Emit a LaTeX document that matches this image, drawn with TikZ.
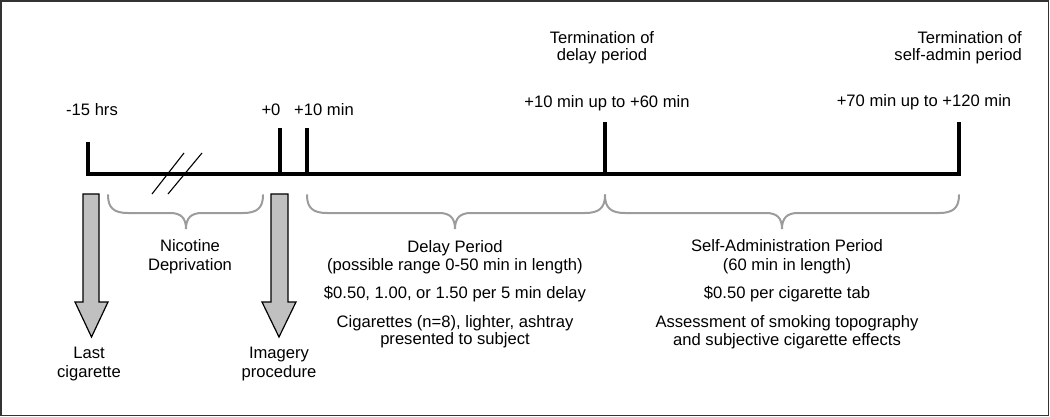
\documentclass[tikz,border=0pt]{standalone}
\usepackage{fontspec}
\setmainfont{Liberation Sans}
\definecolor{bracegray}{HTML}{9C9C9C}
\definecolor{arrowgray}{HTML}{C0C0C0}
\definecolor{framegray}{HTML}{333333}
\newcommand\mybrace[3]{%
  \draw[brc] (#1,195) .. controls (#1,208) and (#1+6,213) .. (#1+20,213)
    -- (#3-16,213) .. controls (#3-5,213) and (#3,218) .. (#3,229)
    .. controls (#3,218) and (#3+5,213) .. (#3+16,213)
    -- (#2-20,213) .. controls (#2-6,213) and (#2,208) .. (#2,195);}
\begin{document}
\begin{tikzpicture}[x=1pt,y=-1pt,
  lbl/.style={anchor=base,inner sep=0pt,font=\fontsize{16.6}{18}\selectfont},
  axis/.style={line width=4.5pt,line join=miter},
  brc/.style={draw=bracegray,line width=2pt,line cap=round},
  blockarrow/.style={draw=black,fill=arrowgray,line width=1.2pt,line join=miter},
  brk/.style={line width=1.1pt}]
\useasboundingbox (0,0) rectangle (1050,417);
\draw[framegray,line width=1.5pt] (1,1) rectangle (1048.5,415.5);

% timeline
\coordinate (s15) at (88,142);
\coordinate (b15) at (88,174);
\coordinate (bend) at (959,174);
\coordinate (send) at (959,122);
\draw[axis] (s15) -- (b15) -- (bend) -- (send);
\coordinate (s0) at (280,128);   \coordinate (b0) at (280,174);
\coordinate (s10) at (307,128);  \coordinate (b10) at (307,174);
\coordinate (sd) at (605,122);   \coordinate (bd) at (605,174);
\draw[axis] (s0) -- (b0);
\draw[axis] (s10) -- (b10);
\draw[axis] (sd) -- (bd);

% break marks
\draw[brk] (152,194) -- (184,153);
\draw[brk] (168,194) -- (202,153);

% block arrows
\draw[blockarrow] (83,194) -- (99,194) -- (99,302) -- (108,302) -- (91.5,337)
  -- (75,302) -- (83,302) -- cycle;
\draw[blockarrow] (271,194) -- (288,194) -- (288,302) -- (296,302) -- (279,337)
  -- (262,302) -- (271,302) -- cycle;

% braces
\mybrace{108}{263}{186}
\mybrace{307}{605}{455}
\mybrace{605}{959}{782}

% top labels
\node[lbl] (l15) at (92,116) {-15 hrs};
\node[lbl] (l0) at (271,116) {+0};
\node[lbl] (l10) at (324,116) {+10 min};
\node[lbl] (l60) at (607,108) {+10 min up to +60 min};
\node[lbl] (l120) at (924,107) {+70 min up to +120 min};
\node[lbl] (td1) at (602,44) {Termination of};
\node[lbl] (td2) at (602,61) {delay period};
\node[lbl,anchor=base east] (ts1) at (1022,44) {Termination of};
\node[lbl,anchor=base east] (ts2) at (1022,61) {self-admin period};

% bottom labels
\node[lbl] (nd1) at (190,251) {Nicotine};
\node[lbl] (nd2) at (190,270) {Deprivation};
\node[lbl] (lc1) at (89,358) {Last};
\node[lbl] (lc2) at (89,377) {cigarette};
\node[lbl] (ip1) at (279,358) {Imagery};
\node[lbl] (ip2) at (279,377) {procedure};

\node[lbl] (dp1) at (455,252) {Delay Period};
\node[lbl] (dp2) at (455,270) {(possible range 0-50 min in length)};
\node[lbl] (dp3) at (455,298) {\$0.50, 1.00, or 1.50 per 5 min delay};
\node[lbl] (dp4) at (455,327) {Cigarettes (n=8), lighter, ashtray};
\node[lbl] (dp5) at (455,344) {presented to subject};

\node[lbl] (sa1) at (787,251) {Self-Administration Period};
\node[lbl] (sa2) at (787,270) {(60 min in length)};
\node[lbl] (sa3) at (787,298) {\$0.50 per cigarette tab};
\node[lbl] (sa4) at (787,327) {Assessment of smoking topography};
\node[lbl] (sa5) at (787,345) {and subjective cigarette effects};
\end{tikzpicture}
\end{document}
